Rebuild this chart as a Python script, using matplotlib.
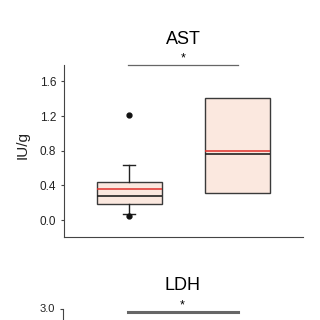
import matplotlib
matplotlib.use('Agg')
import matplotlib.pyplot as plt

plt.rcParams['font.family'] = ['Liberation Sans', 'DejaVu Sans']

# AST box statistics (IU/g)
groups = ['A', 'B']
positions = [1, 2]
q1 = [0.19, 0.31]
median = [0.28, 0.765]
q3 = [0.435, 1.41]
mean = [0.355, 0.80]
whis_lo = [0.075, 0.31]
whis_hi = [0.64, 1.41]
fliers = [[0.05, 1.21], []]

ast_ticks = [0.0, 0.4, 0.8, 1.2, 1.6]
ldh_ticks = [3.0]

fig = plt.figure(figsize=(3.2, 3.2), dpi=100)
fig.patch.set_facecolor('white')

# top panel
ax = fig.add_axes([0.2, 0.2594, 0.747, 0.5375])
stats = []
for i in range(len(groups)):
    stats.append({'label': groups[i], 'q1': q1[i], 'med': median[i], 'q3': q3[i],
                  'mean': mean[i], 'whislo': whis_lo[i], 'whishi': whis_hi[i],
                  'fliers': fliers[i]})

ax.bxp(stats, positions=positions, widths=0.6, patch_artist=True,
       showmeans=True, meanline=True, capwidths=[0.11, 0.0],
       boxprops=dict(facecolor='#fbe8df', edgecolor='#3a3a3a', lw=1.0),
       medianprops=dict(color='#222222', lw=1.2),
       meanprops=dict(color='#e0302a', lw=1.1, ls='-'),
       whiskerprops=dict(color='#222222', lw=1.0),
       capprops=dict(color='#222222', lw=1.0),
       flierprops=dict(marker='o', markerfacecolor='#111111',
                       markeredgecolor='#111111', markersize=3.5))

ax.set_xlim(0.40, 2.60)
ax.set_ylim(-0.196, 1.79)
ax.set_yticks(ast_ticks)
ax.set_yticklabels(['%.1f' % t for t in ast_ticks])
ax.set_xticks([])
ax.spines['top'].set_visible(False)
ax.spines['right'].set_visible(False)
ax.spines['left'].set_color('#444444')
ax.spines['bottom'].set_color('#444444')
ax.tick_params(axis='y', length=2.5, width=0.8, color='#444444', labelsize=8.5, pad=3,
               labelcolor='#222222')
ax.set_ylabel('IU/g', fontsize=11, color='#222222')
ax.yaxis.set_label_coords(-0.142, 0.535)
ax.set_title('AST', fontsize=13, pad=15)

ax.plot([0.99, 2.005], [1.785, 1.785], color='#666666', lw=0.9, clip_on=False)
ax.text(1.5, 1.80, '*', ha='center', va='bottom', fontsize=9, clip_on=False)

# bottom panel (cut off by the picture edge)
ax2 = fig.add_axes([0.197, -0.5, 0.747, 0.5344])
ax2.set_xlim(0.40, 2.60)
ax2.set_ylim(0, 3.0)
ax2.set_yticks(ldh_ticks)
ax2.set_yticklabels(['%.1f' % t for t in ldh_ticks], va='center')
ax2.set_xticks([])
ax2.spines['top'].set_visible(False)
ax2.spines['right'].set_visible(False)
ax2.spines['left'].set_color('#444444')
ax2.tick_params(axis='y', length=2.5, width=0.8, color='#444444', labelsize=8, pad=3,
                labelcolor='#222222')
ax2.set_title('LDH', fontsize=13, pad=14)
ax2.plot([1.0, 2.01], [2.94, 2.94], color='#666666', lw=2.2)
ax2.text(1.5, 2.96, '*', ha='center', va='bottom', fontsize=9)

fig.savefig('out.png', dpi=100, facecolor='white')
